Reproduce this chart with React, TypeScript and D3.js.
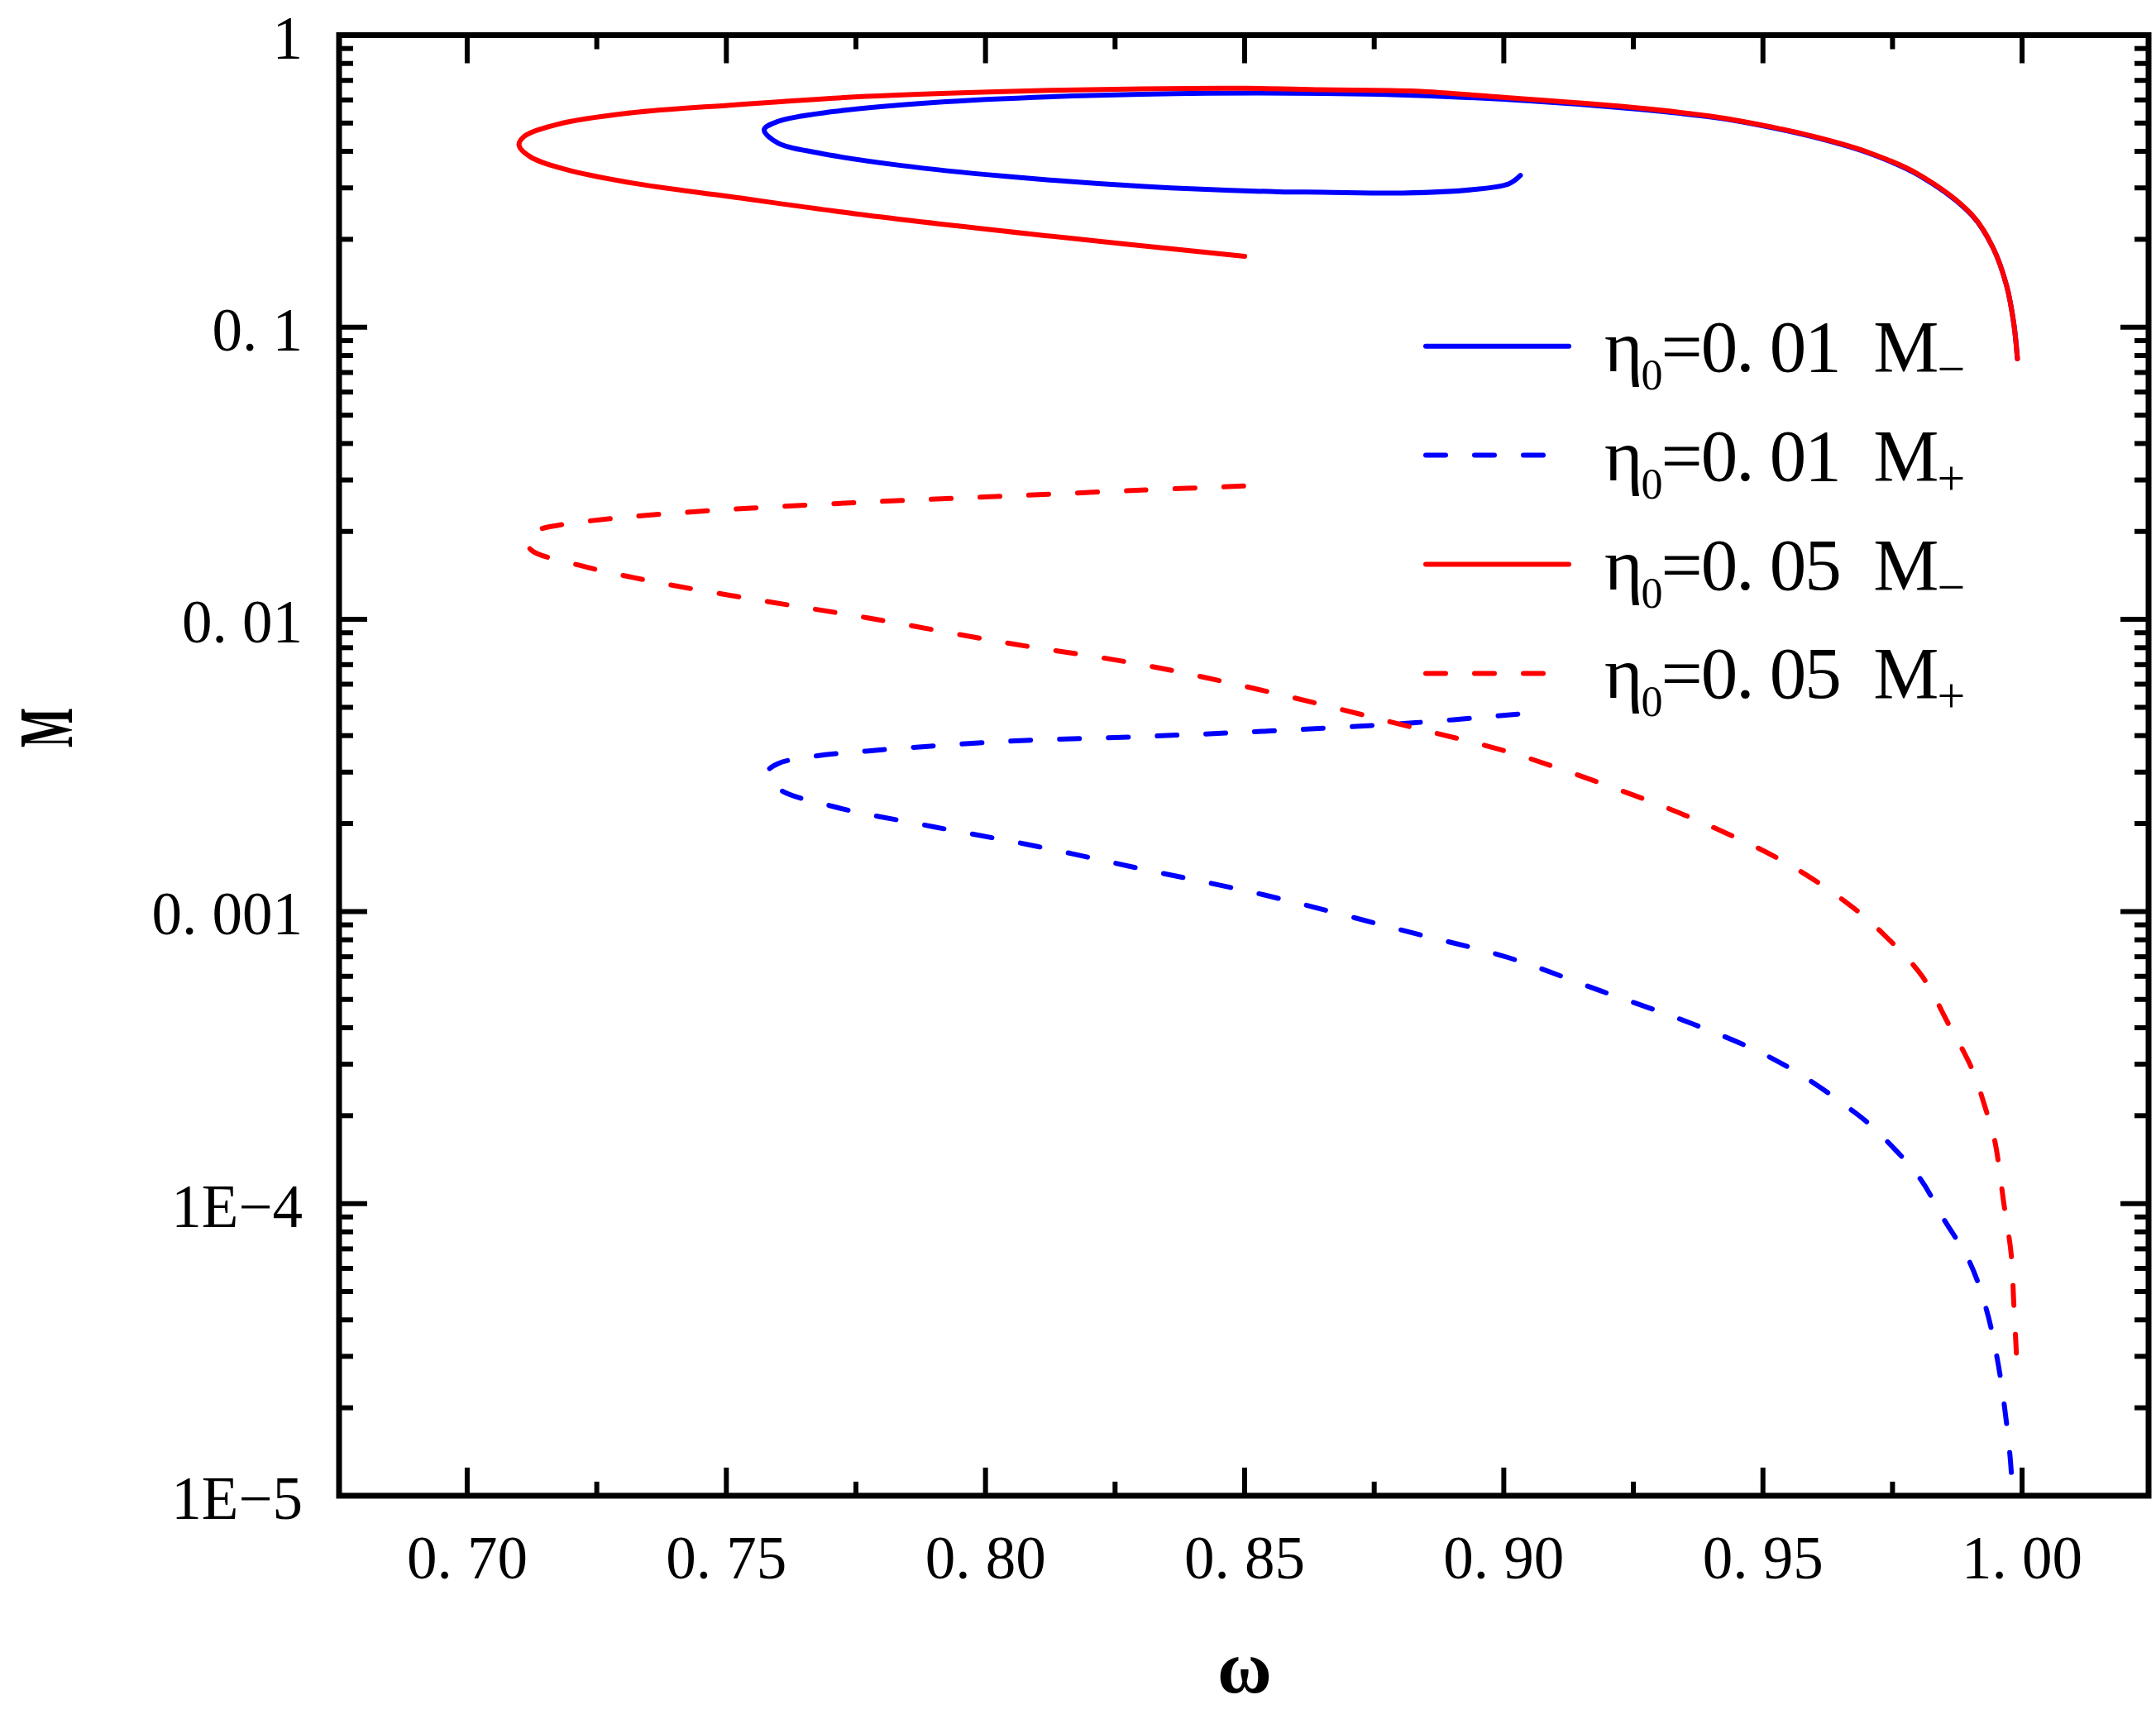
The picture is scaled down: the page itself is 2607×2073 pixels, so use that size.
import * as d3 from 'd3'

// omega / M readings along each curve, in drawing order
const blueSolidW = [0.9032, 0.901, 0.894, 0.8805, 0.865, 0.8565, 0.83, 0.8035, 0.7837, 0.7678, 0.76, 0.7573, 0.76, 0.7705, 0.79, 0.8168, 0.843, 0.876, 0.905, 0.925, 0.9412, 0.9501, 0.9596, 0.97, 0.98, 0.9903, 0.9944, 0.997, 0.9984, 0.9991]
const blueSolidM = [0.331, 0.31, 0.296, 0.288, 0.29, 0.291, 0.304, 0.329, 0.358, 0.395, 0.427, 0.474, 0.507, 0.547, 0.588, 0.619, 0.633, 0.627, 0.596, 0.56, 0.521, 0.489, 0.449, 0.397, 0.332, 0.242, 0.187, 0.139, 0.103, 0.078]

const redSolidW = [0.85, 0.8115, 0.777, 0.7507, 0.7308, 0.719, 0.7123, 0.71, 0.711, 0.7176, 0.7308, 0.7507, 0.777, 0.8035, 0.83, 0.85, 0.865, 0.883, 0.9, 0.925, 0.9412, 0.9501, 0.9596, 0.97, 0.98, 0.9903, 0.9944, 0.997, 0.9984, 0.9991]
const redSolidM = [0.175, 0.206, 0.242, 0.28, 0.314, 0.347, 0.382, 0.42, 0.45, 0.496, 0.54, 0.576, 0.617, 0.641, 0.655, 0.658, 0.65, 0.643, 0.612, 0.565, 0.524, 0.491, 0.451, 0.399, 0.334, 0.243, 0.187, 0.139, 0.103, 0.078]

const blueDashW = [0.9027, 0.883, 0.8537, 0.83, 0.8035, 0.777, 0.7665, 0.76, 0.758, 0.76, 0.7705, 0.79, 0.81, 0.83, 0.8537, 0.8828, 0.9008, 0.9187, 0.9365, 0.95, 0.9589, 0.9668, 0.9708, 0.98, 0.9848, 0.9899, 0.9931, 0.9952, 0.9966, 0.9977, 0.9982]
const blueDashM = [0.00474, 0.00443, 0.00414, 0.00397, 0.00382, 0.00354, 0.00339, 0.00321, 0.00301, 0.00264, 0.00229, 0.00195, 0.00167, 0.0014, 0.00114, 0.000841, 0.000696, 0.000535, 0.000412, 0.000326, 0.000265, 0.000211, 0.000185, 0.000124, 0.000089, 0.000063, 0.0000435, 0.0000295, 0.0000202, 0.0000135, 0.00001]

const redDashW = [0.8498, 0.83, 0.8035, 0.777, 0.7507, 0.7308, 0.7176, 0.7134, 0.7116, 0.7123, 0.7215, 0.7375, 0.7573, 0.777, 0.8035, 0.83, 0.8537, 0.8828, 0.9008, 0.9187, 0.9365, 0.9544, 0.9668, 0.9735, 0.9807, 0.9858, 0.9903, 0.993, 0.9947, 0.9965, 0.9979, 0.9984, 0.9989]
const redDashM = [0.0286, 0.0277, 0.0264, 0.0252, 0.0238, 0.0224, 0.021, 0.0201, 0.0187, 0.0173, 0.01534, 0.0133, 0.01156, 0.01014, 0.00834, 0.00701, 0.0057, 0.00425, 0.00352, 0.00275, 0.00208, 0.00147, 0.00105, 0.000828, 0.000601, 0.000412, 0.00029, 0.00021, 0.000165, 0.0000995, 0.000067, 0.0000455, 0.0000308]

const xMajor = [0.7, 0.75, 0.8, 0.85, 0.9, 0.95, 1.0]
const xMinor = [0.725, 0.775, 0.825, 0.875, 0.925, 0.975]
const xLabels = ['0. 70', '0. 75', '0. 80', '0. 85', '0. 90', '0. 95', '1. 00']
const yMajor = [1, 0.1, 0.01, 0.001, 1e-4, 1e-5]
const yLabels = ['1', '0. 1', '0. 01', '0. 001', '1E\u22124', '1E\u22125']

const legendValues = ['0. 01', '0. 01', '0. 05', '0. 05']
const legendSigns = ['\u2212', '+', '\u2212', '+']

const BLUE = '#0000ff'
const RED = '#ff0000'
const DASH = '24 35'

export default function App() {
  const width = 2607
  const height = 2073
  const left = 410
  const right = 2598
  const top = 42.5
  const bottom = 1809
  const font = '"Liberation Serif", "Times New Roman", serif'

  const x = d3.scaleLinear().domain([0.67528, 1.0244]).range([left, right])
  const y = d3.scaleLog().domain([1e-5, 1]).range([bottom, top])

  const yMinor: number[] = []
  for (let e = -5; e < 0; e++) {
    for (let k = 2; k <= 9; k++) yMinor.push(k * Math.pow(10, e))
  }

  const line = d3
    .line<[number, number]>()
    .x((d) => x(d[0]))
    .y((d) => y(d[1]))
    .curve(d3.curveCatmullRom.alpha(0.5))

  const series = [
    { w: blueSolidW, m: blueSolidM, color: BLUE, dash: undefined },
    { w: redSolidW, m: redSolidM, color: RED, dash: undefined },
    { w: blueDashW, m: blueDashM, color: BLUE, dash: DASH },
    { w: redDashW, m: redDashM, color: RED, dash: DASH },
  ]

  const legend = [
    { color: BLUE, dash: undefined },
    { color: BLUE, dash: DASH },
    { color: RED, dash: undefined },
    { color: RED, dash: DASH },
  ]

  const majorLen = 34
  const minorLen = 17

  return (
    <svg
      width={width}
      height={height}
      style={{ position: 'absolute', left: 0, top: 0, background: '#fff' }}
      fontFamily={font}
    >
      <rect x={0} y={0} width={width} height={height} fill="#fff" />

      <defs>
        <clipPath id="plot">
          <rect x={left} y={top} width={right - left} height={bottom - top} />
        </clipPath>
      </defs>

      <g clipPath="url(#plot)">
        {series.map((s, i) => (
          <path
            key={i}
            d={line(s.w.map((w, j) => [w, s.m[j]] as [number, number])) ?? ''}
            fill="none"
            stroke={s.color}
            strokeWidth={6}
            strokeDasharray={s.dash}
            strokeLinecap="round"
            strokeLinejoin="round"
          />
        ))}
      </g>

      {/* ticks, mirrored on all four sides */}
      <g stroke="#000" strokeWidth={6}>
        {xMajor.map((t) => (
          <g key={`xM${t}`}>
            <line x1={x(t)} x2={x(t)} y1={bottom} y2={bottom - majorLen} />
            <line x1={x(t)} x2={x(t)} y1={top} y2={top + majorLen} />
          </g>
        ))}
        {xMinor.map((t) => (
          <g key={`xm${t}`}>
            <line x1={x(t)} x2={x(t)} y1={bottom} y2={bottom - minorLen} />
            <line x1={x(t)} x2={x(t)} y1={top} y2={top + minorLen} />
          </g>
        ))}
        {yMajor.map((t) => (
          <g key={`yM${t}`}>
            <line x1={left} x2={left + majorLen} y1={y(t)} y2={y(t)} />
            <line x1={right} x2={right - majorLen} y1={y(t)} y2={y(t)} />
          </g>
        ))}
        {yMinor.map((t) => (
          <g key={`ym${t}`}>
            <line x1={left} x2={left + minorLen} y1={y(t)} y2={y(t)} />
            <line x1={right} x2={right - minorLen} y1={y(t)} y2={y(t)} />
          </g>
        ))}
      </g>

      <rect
        x={left}
        y={top}
        width={right - left}
        height={bottom - top}
        fill="none"
        stroke="#000"
        strokeWidth={7}
      />

      {xMajor.map((t, i) => (
        <text
          key={`xl${t}`}
          x={x(t)}
          y={1909}
          textAnchor="middle"
          fontSize={73}
          style={{ whiteSpace: 'pre' }}
        >
          {xLabels[i]}
        </text>
      ))}

      {yMajor.map((t, i) => (
        <text
          key={`yl${t}`}
          x={366}
          y={y(t) + 28}
          textAnchor="end"
          fontSize={73}
          style={{ whiteSpace: 'pre' }}
        >
          {yLabels[i]}
        </text>
      ))}

      <text x={1505} y={2047} textAnchor="middle" fontSize={90} fontWeight="bold">
        ω
      </text>

      <text
        transform="translate(87, 880) rotate(-90) scale(0.54, 1)"
        textAnchor="middle"
        fontSize={94}
        fontWeight="bold"
      >
        M
      </text>

      {legend.map((item, i) => {
        const ly = 418.7 + i * 131.9
        return (
          <g key={`lg${i}`}>
            <line
              x1={1724}
              x2={item.dash ? 1870 : 1897}
              y1={ly}
              y2={ly}
              stroke={item.color}
              strokeWidth={6}
              strokeDasharray={item.dash}
              strokeLinecap="round"
            />
            <text
              x={1940}
              y={ly + 30}
              fontSize={89}
              letterSpacing={-2}
              style={{ whiteSpace: 'pre' }}
            >
              η
              <tspan fontSize={52} dy={22}>
                0
              </tspan>
              <tspan dy={-22}>{`=${legendValues[i]}  M`}</tspan>
              <tspan fontSize={60} dy={17}>
                {legendSigns[i]}
              </tspan>
            </text>
          </g>
        )
      })}
    </svg>
  )
}
